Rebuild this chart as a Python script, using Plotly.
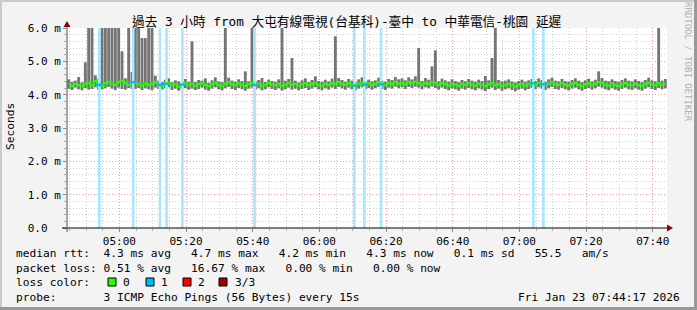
import plotly.graph_objects as go
import pandas as pd

# ---------------- data ----------------
start_time = "2026-01-23 04:44:17"
end_time = "2026-01-23 07:44:17"

median_ms = [
    4.31,4.27,4.33,4.29,4.25,4.32,4.36,4.28,4.41,4.30, 4.26,4.35,4.39,4.33,4.29,4.37,4.42,4.34,4.30,4.38,
    4.36,4.31,4.27,4.34,4.29,4.33,4.37,4.30,4.26,4.32, 4.35,4.28,4.31,4.24,4.30,4.36,4.29,4.33,4.27,4.31,
    4.34,4.29,4.25,4.32,4.36,4.30,4.27,4.33,4.38,4.31, 4.28,4.34,4.30,4.26,4.32,4.35,4.29,4.33,4.27,4.30,
    4.36,4.31,4.28,4.33,4.26,4.30,4.35,4.29,4.32,4.27, 4.31,4.34,4.28,4.32,4.36,4.30,4.27,4.33,4.29,4.35,
    4.31,4.38,4.33,4.29,4.35,4.30,4.27,4.32,4.36,4.30, 4.34,4.29,4.33,4.37,4.31,4.28,4.35,4.32,4.38,4.33,
    4.36,4.31,4.37,4.34,4.39,4.35,4.30,4.36,4.33,4.38, 4.34,4.29,4.35,4.31,4.27,4.33,4.30,4.26,4.32,4.29,
    4.34,4.30,4.27,4.33,4.29,4.25,4.31,4.35,4.28,4.32, 4.26,4.30,4.33,4.28,4.24,4.29,4.32,4.27,4.31,4.34,
    4.30,4.36,4.32,4.28,4.33,4.37,4.31,4.29,4.34,4.30, 4.27,4.32,4.35,4.30,4.26,4.31,4.34,4.29,4.33,4.38,
    4.35,4.30,4.27,4.33,4.29,4.26,4.31,4.35,4.30,4.28, 4.33,4.29,4.26,4.32,4.36,4.31,4.28,4.34,4.30,4.33,
]

smoke_low_ms = [
    4.18,4.14,4.21,4.16,4.13,4.20,4.15,4.17,4.22,4.14, 4.16,4.19,4.23,4.18,4.14,4.21,4.17,4.15,4.20,4.18,
    4.17,4.20,4.14,4.19,4.16,4.13,4.21,4.17,4.15,4.19, 4.22,4.14,4.18,4.12,4.16,4.20,4.15,4.18,4.14,4.17,
    4.21,4.15,4.12,4.18,4.22,4.16,4.13,4.19,4.23,4.17, 4.14,4.20,4.16,4.12,4.18,4.21,4.15,4.19,4.13,4.16,
    4.22,4.17,4.14,4.19,4.12,4.16,4.21,4.15,4.18,4.13, 4.17,4.20,4.14,4.18,4.22,4.16,4.13,4.19,4.15,4.21,
    4.17,4.23,4.19,4.15,4.21,4.16,4.13,4.18,4.22,4.16, 4.20,4.15,4.19,4.23,4.17,4.14,4.21,4.18,4.24,4.19,
    4.22,4.17,4.23,4.20,4.24,4.21,4.16,4.22,4.19,4.24, 4.20,4.15,4.21,4.17,4.13,4.19,4.16,4.12,4.18,4.15,
    4.20,4.16,4.13,4.19,4.15,4.11,4.17,4.21,4.14,4.18, 4.12,4.16,4.19,4.14,4.10,4.15,4.18,4.13,4.17,4.20,
    4.16,4.22,4.18,4.14,4.19,4.23,4.17,4.15,4.20,4.16, 4.13,4.18,4.21,4.16,4.12,4.17,4.20,4.15,4.19,4.24,
    4.21,4.16,4.13,4.19,4.15,4.12,4.17,4.21,4.16,4.14, 4.19,4.15,4.12,4.18,4.22,4.17,4.14,4.20,4.16,4.19,
]

smoke_high_ms = [
    4.46,4.39,4.42,4.53,4.37,4.97,6.50,6.50,4.58,4.48, 6.50,6.50,6.50,6.50,6.50,6.50,5.30,4.49,6.50,4.68,
    6.50,6.50,5.70,5.70,6.50,6.50,4.57,4.42,4.38,4.45, 4.49,4.37,4.43,4.40,4.36,4.47,4.39,5.60,4.38,4.44,
    4.42,4.49,4.36,4.43,4.52,4.40,4.38,6.50,4.51,4.42, 4.39,4.46,4.41,4.70,4.40,6.50,4.39,4.44,4.50,4.38,
    4.45,4.41,4.39,4.46,6.50,4.42,4.47,5.10,4.42,4.37, 4.43,4.49,4.38,4.44,4.55,4.41,4.39,4.45,4.40,4.48,
    5.75,4.50,4.44,4.39,4.47,4.42,4.38,4.46,4.52,4.40, 4.45,4.40,4.43,4.51,4.42,4.39,4.47,4.44,4.53,4.46,
    4.49,4.43,4.52,4.46,4.55,5.40,4.41,4.50,4.45,4.85, 5.33,4.40,4.48,4.43,4.39,4.46,4.41,4.38,4.44,4.40,
    4.47,4.42,4.39,4.45,4.41,4.56,4.43,5.10,6.50,4.44, 4.40,4.42,4.46,4.40,4.37,4.41,4.45,4.39,4.43,4.47,
    4.41,4.49,4.44,4.39,4.46,4.51,4.42,4.40,4.47,4.41, 4.39,4.44,4.49,4.42,4.38,4.43,4.48,4.40,4.45,4.70,
    4.50,4.42,4.40,4.46,4.41,4.39,4.44,4.49,4.42,4.40, 4.46,4.41,4.38,4.44,4.51,4.43,4.40,6.50,4.42,4.47,
]

loss_times = [
    "2026-01-23 04:53:59", "2026-01-23 05:04:08", "2026-01-23 05:12:11",
    "2026-01-23 05:14:08", "2026-01-23 05:18:53", "2026-01-23 05:40:35",
    "2026-01-23 06:10:29", "2026-01-23 06:13:29", "2026-01-23 06:18:29",
    "2026-01-23 07:04:11", "2026-01-23 07:07:11",
]
loss_pings = [1, 1, 1, 1, 1, 1, 1, 1, 1, 1, 1]

y_tick_values = [0, 1, 2, 3, 4, 5, 6]
y_tick_labels = ["0.0  ", "1.0 m", "2.0 m", "3.0 m", "4.0 m", "5.0 m", "6.0 m"]

title_text = "過去 3 小時 from 大屯有線電視(台基科)-臺中 to 中華電信-桃園 延遲"
line_median = "median rtt:  4.3 ms avg   4.7 ms max   4.2 ms min   4.3 ms now   0.1 ms sd   55.5   am/s"
line_loss = "packet loss: 0.51 % avg   16.67 % max   0.00 % min   0.00 % now"
line_probe = "probe:       3 ICMP Echo Pings (56 Bytes) every 15s"
date_text = "Fri Jan 23 07:44:17 2026"
loss_color_labels = ["0", "1", "2", "3/3"]
loss_colors = ["#26ff00", "#00b8ff", "#ff0000", "#a10000"]

# ---------------- build ----------------
start = pd.Timestamp(start_time)
times = [start + pd.Timedelta(minutes=i, seconds=30) for i in range(len(median_ms))]
heights = [h - l for h, l in zip(smoke_high_ms, smoke_low_ms)]
loss_idx = [int((pd.Timestamp(t) - start).total_seconds() // 60) for t in loss_times]
loss_med = [median_ms[i] for i in loss_idx]

MONO = "DejaVu Sans Mono, Noto Sans CJK TC, monospace"


def nb(s):
    return s.replace(" ", "\u00a0")


# plot-area pixel helpers (layout only)
PL, PR, PT, PB = 67, 667, 28, 228


def px(x):
    return (x - PL) / (PR - PL)


def py(y):
    return (PB - y) / (PB - PT)


fig = go.Figure()
fig.add_trace(go.Bar(x=times, y=heights, base=smoke_low_ms, width=52000,
                     marker=dict(color="#757575", line=dict(width=0)),
                     hoverinfo="skip"))
fig.add_trace(go.Bar(x=loss_times, y=[1 if p > 0 else 0 for p in loss_pings], yaxis="y2",
                     width=48000, marker=dict(color="#a9e6ff", line=dict(width=0)),
                     hoverinfo="skip"))
fig.add_trace(go.Scatter(x=times, y=median_ms, yaxis="y3", mode="lines",
                         line=dict(color="#26ff00", width=2, shape="hvh"),
                         hoverinfo="skip"))
fig.add_trace(go.Scatter(x=loss_times, y=loss_med, yaxis="y3", mode="markers",
                         marker=dict(symbol="line-ew", size=5,
                                     line=dict(color="#00b8ff", width=2)),
                         hoverinfo="skip"))

grid_dash = "1px,2px"
fig.update_layout(
    width=697, height=310, autosize=False,
    margin=dict(l=PL, r=697 - PR, t=PT, b=310 - PB, pad=0),
    paper_bgcolor="#f3f3f3", plot_bgcolor="#ffffff",
    showlegend=False, barmode="overlay", hovermode=False,
    font=dict(family=MONO, size=11, color="#000000"),
    xaxis=dict(
        type="date", range=[start_time, end_time], automargin=False,
        tick0="2026-01-23 05:00:00", dtick=1200000, tickformat="%H:%M",
        showgrid=True, gridcolor="#f0a0a0", griddash=grid_dash, gridwidth=1,
        ticks="outside", ticklen=3, tickcolor="#888888",
        tickfont=dict(family=MONO, size=11, color="#000000"),
        minor=dict(dtick=300000, tick0="2026-01-23 05:00:00", showgrid=True,
                   gridcolor="#cfcfcf", griddash=grid_dash, ticks="outside",
                   ticklen=2, tickcolor="#aaaaaa"),
        showline=False, zeroline=False, fixedrange=True,
    ),
    yaxis=dict(
        range=[0, 6.0], automargin=False,
        tickvals=y_tick_values, ticktext=[nb(s) for s in y_tick_labels],
        showgrid=True, gridcolor="#f0a0a0", griddash=grid_dash, gridwidth=1,
        ticks="outside", ticklen=3, tickcolor="#888888",
        tickfont=dict(family=MONO, size=11, color="#000000"),
        minor=dict(dtick=0.2, showgrid=True, gridcolor="#cfcfcf",
                   griddash=grid_dash, ticks="outside", ticklen=2,
                   tickcolor="#aaaaaa"),
        showline=False, zeroline=False, fixedrange=True,
    ),
    yaxis2=dict(overlaying="y", range=[0, 1], visible=False, fixedrange=True),
    yaxis3=dict(overlaying="y", range=[0, 6.0], visible=False, fixedrange=True),
)

shapes = []
# frame shading
shapes.append(dict(type="rect", xref="paper", yref="paper", x0=px(0), x1=px(697), y0=py(0), y1=py(2),
                   fillcolor="#cbcbcb", line=dict(width=0)))
shapes.append(dict(type="rect", xref="paper", yref="paper", x0=px(0), x1=px(2), y0=py(0), y1=py(310),
                   fillcolor="#cbcbcb", line=dict(width=0)))
shapes.append(dict(type="rect", xref="paper", yref="paper", x0=px(0), x1=px(697), y0=py(307), y1=py(310),
                   fillcolor="#999999", line=dict(width=0)))
shapes.append(dict(type="rect", xref="paper", yref="paper", x0=px(694), x1=px(697), y0=py(0), y1=py(310),
                   fillcolor="#999999", line=dict(width=0)))
# axis lines
shapes.append(dict(type="line", xref="paper", yref="paper", x0=px(62), x1=px(668), y0=0, y1=0,
                   line=dict(color="#000000", width=1), layer="above"))
shapes.append(dict(type="line", xref="paper", yref="paper", x0=0, x1=0, y0=py(232), y1=py(24),
                   line=dict(color="#555555", width=1), layer="above"))
# arrows
shapes.append(dict(type="path", xref="paper", yref="paper",
                   path=f"M {px(667)} {py(224.5)} L {px(673)} {py(228)} L {px(667)} {py(231.5)} Z",
                   fillcolor="#8b0000", line=dict(width=0), layer="above"))
shapes.append(dict(type="path", xref="paper", yref="paper",
                   path=f"M {px(63.5)} {py(27)} L {px(67)} {py(21)} L {px(70.5)} {py(27)} Z",
                   fillcolor="#8b0000", line=dict(width=0), layer="above"))
# loss color swatches
sw_x = [108, 146, 183, 219]
for x0, c in zip(sw_x, loss_colors):
    shapes.append(dict(type="rect", xref="paper", yref="paper", x0=px(x0), x1=px(x0 + 8),
                       y0=py(286), y1=py(278), fillcolor=c, line=dict(color="#000000", width=1)))
fig.update_layout(shapes=shapes)

ann = []
ann.append(dict(text=nb(title_text), x=px(346.5), y=py(21.5), xref="paper", yref="paper",
                showarrow=False, xanchor="center", yanchor="middle",
                font=dict(family=MONO, size=12.7, color="#000000")))
ann.append(dict(text="Seconds", x=px(10), y=py(127), xref="paper", yref="paper",
                showarrow=False, xanchor="center", yanchor="middle", textangle=-90,
                font=dict(family=MONO, size=11.2, color="#000000")))
ann.append(dict(text=nb("RRDTOOL / TOBI OETIKER"), x=px(688), y=py(62), xref="paper", yref="paper",
                showarrow=False, xanchor="center", yanchor="middle", textangle=90,
                font=dict(family=MONO, size=9, color="#b0b0b0")))
for txt, yy in [(line_median, 253), (line_loss, 268), ("loss color:", 282), (line_probe, 297)]:
    ann.append(dict(text=nb(txt), x=px(15), y=py(yy), xref="paper", yref="paper",
                    showarrow=False, xanchor="left", yanchor="middle", borderpad=0,
                    font=dict(family=MONO, size=11.2, color="#000000")))
for x0, lab in zip([122, 160, 197, 234], loss_color_labels):
    ann.append(dict(text=lab, x=px(x0), y=py(282), xref="paper", yref="paper",
                    showarrow=False, xanchor="left", yanchor="middle", borderpad=0,
                    font=dict(family=MONO, size=11.2, color="#000000")))
ann.append(dict(text=nb(date_text), x=px(681), y=py(297), xref="paper", yref="paper",
                showarrow=False, xanchor="right", yanchor="middle", borderpad=0,
                font=dict(family=MONO, size=11.2, color="#000000")))
fig.update_layout(annotations=ann)

fig.write_html("out.html")
